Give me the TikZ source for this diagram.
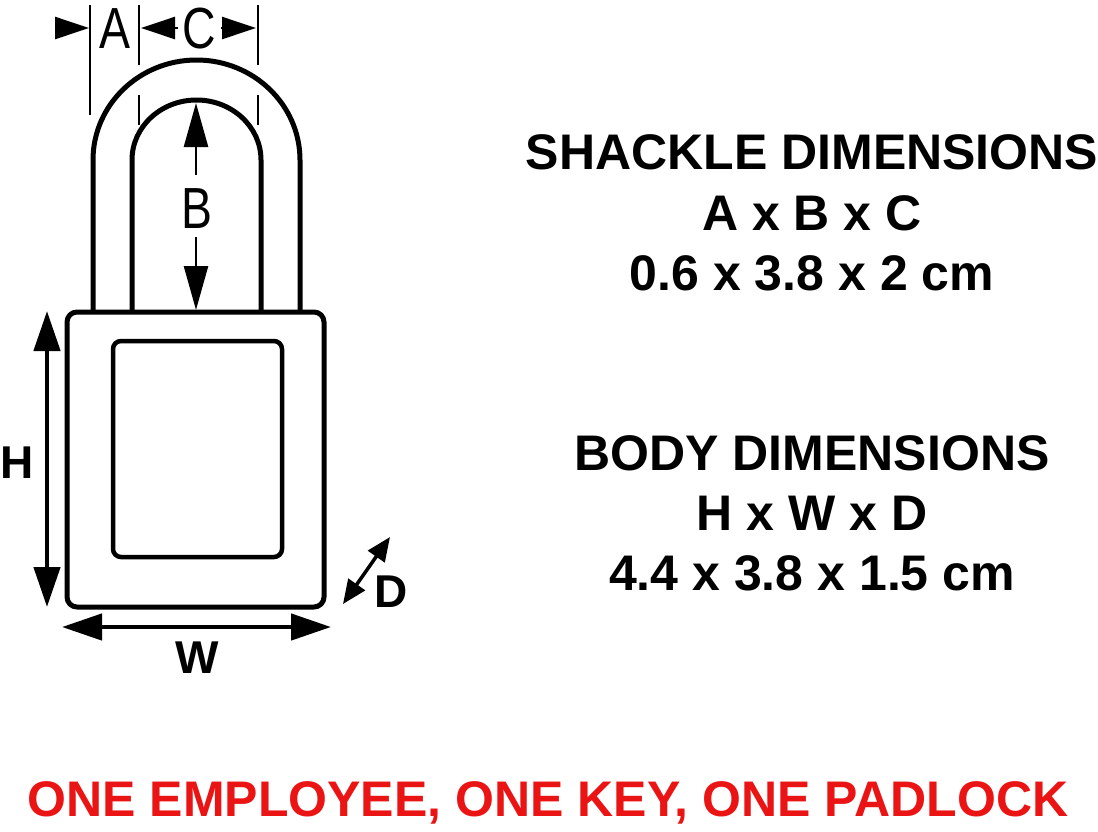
\documentclass[tikz,border=0pt]{standalone}
\usepackage{fontspec}
\setmainfont{Liberation Sans}
\usetikzlibrary{arrows.meta}
\begin{document}
\begin{tikzpicture}[x=1pt,y=-1pt,
  outl/.style={line width=5pt,line join=round},
  dim/.style={line width=1.8pt},
  dimarr/.style={line width=4.5pt,{Triangle[length=40pt,width=26pt]}-{Triangle[length=40pt,width=26pt]}},
  thinarr/.style={line width=2.5pt,-{Triangle[length=44pt,width=24pt]}},
  lbl/.style={font=\fontsize{46}{46}\selectfont\bfseries},
  big/.style={font=\fontsize{50}{50}\selectfont\bfseries},
  thin/.style={font=\fontsize{58}{58}\selectfont,xscale=0.8}]
\useasboundingbox (0,0) rectangle (1098,831);
\fill[white] (0,0) rectangle (1098,831);
% shackle
\draw[outl] (93,312) -- (93,160) arc[start angle=180,end angle=360,x radius=103.5,y radius=100] -- (300,312);
\draw[outl] (132,312) -- (132,160) arc[start angle=180,end angle=360,x radius=64.5,y radius=60] -- (261,312);
% body
\node[draw,outl,rounded corners=10pt,minimum width=257pt,minimum height=295pt,fill=white] (body) at (195.5,459.5) {};
\node[draw,line width=4.5pt,rounded corners=8pt,minimum width=169pt,minimum height=216pt] (win) at (197.5,449) {};
% dimension ticks
\draw[dim] (90,5) -- (90,115);
\draw[dim] (139,5) -- (139,65); \draw[dim] (139,95) -- (139,125);
\draw[dim] (258,5) -- (258,65); \draw[dim] (258,95) -- (258,125);
\coordinate (a1) at (55,28); \coordinate (a2) at (89,28);
\draw[thinarr,-{Triangle[length=34pt,width=22pt]}] (a1) -- (a2);
\coordinate (c1) at (178,28); \coordinate (c2) at (141,28);
\draw[thinarr,-{Triangle[length=34pt,width=22pt]}] (c1) -- (c2);
\coordinate (c3) at (221,28); \coordinate (c4) at (256,28);
\draw[thinarr,-{Triangle[length=34pt,width=22pt]}] (c3) -- (c4);
\node[thin] (A) at (115,29) {A};
\node[thin] (C) at (199,29) {C};
% B
\node[thin] (B) at (197,209) {B};
\coordinate (b1) at (196,175); \coordinate (b2) at (196,103);
\coordinate (b3) at (196,237); \coordinate (b4) at (196,310);
\draw[thinarr] (b1) -- (b2);
\draw[thinarr] (b3) -- (b4);
% H W D
\coordinate (h1) at (47,311); \coordinate (h2) at (47,607);
\draw[dimarr] (h1) -- (h2);
\node[lbl] (H) at (17,463) {H};
\coordinate (w1) at (62,627); \coordinate (w2) at (331,627);
\draw[dimarr] (w1) -- (w2);
\node[lbl] (W) at (197,658) {W};
\coordinate (d1) at (343,604); \coordinate (d2) at (390,537);
\draw[line width=3.5pt,{Triangle[length=24pt,width=20pt]}-{Triangle[length=24pt,width=20pt]}] (d1) -- (d2);
\node[lbl] (D) at (391,592) {D};
% texts
\node[big] (s1) at (812,152) {SHACKLE DIMENSIONS};
\node[big] (s2) at (812,213) {A x B x C};
\node[big] (s3) at (812,273) {0.6 x 3.8 x 2 cm};
\node[big] (t1) at (812,453) {BODY DIMENSIONS};
\node[big] (t2) at (812,513) {H x W x D};
\node[big] (t3) at (812,573) {4.4 x 3.8 x 1.5 cm};
\node[big,text={rgb,255:red,235;green,20;blue,20}] (red) at (548,803) {ONE EMPLOYEE, ONE KEY, ONE PADLOCK};
\end{tikzpicture}
\end{document}
